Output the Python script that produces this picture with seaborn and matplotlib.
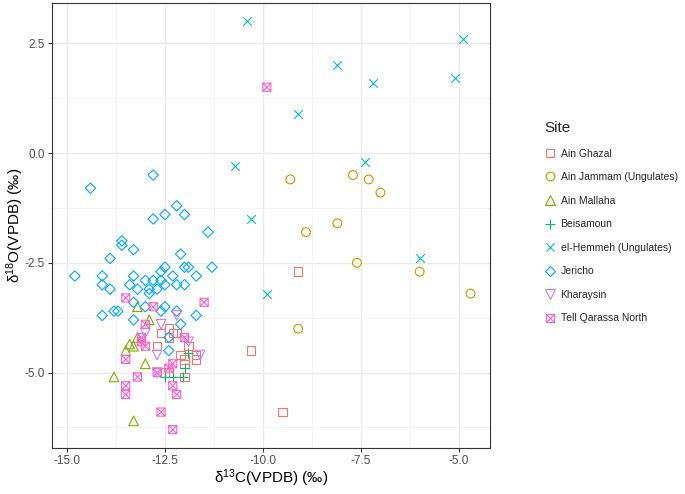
import seaborn as sns
import matplotlib.pyplot as plt
import matplotlib as mpl
from matplotlib.path import Path
from matplotlib.lines import Line2D
from matplotlib.ticker import MultipleLocator
import pandas as pd

# data
ain_ghazal_x = [-9.1, -10.3, -9.5, -12.6, -12.4, -12.3, -12.2, -12.7, -11.9, -12.1, -11.7,
                -11.7, -12.0, -12.0, -12.4, -12.5, -12.0, -12.4]
ain_ghazal_y = [-2.7, -4.5, -5.9, -4.1, -4.0, -4.1, -4.1, -4.4, -4.4, -4.6, -4.6,
                -4.7, -4.7, -4.8, -5.0, -5.0, -5.1, -4.2]

ain_jammam_x = [-9.3, -7.7, -7.3, -7.0, -8.9, -8.1, -7.6, -6.0, -4.7, -9.1]
ain_jammam_y = [-0.6, -0.5, -0.6, -0.9, -1.8, -1.6, -2.5, -2.7, -3.2, -4.0]

ain_mallaha_x = [-13.2, -12.9, -13.2, -13.4, -13.3, -13.5, -13.0, -13.8, -13.3]
ain_mallaha_y = [-3.5, -3.8, -4.2, -4.35, -4.4, -4.5, -4.8, -5.1, -6.1]

beisamoun_x = [-11.9, -12.0, -12.5, -12.3, -12.05]
beisamoun_y = [-4.55, -4.9, -5.1, -5.1, -5.1]

hemmeh_x = [-10.4, -4.9, -8.1, -7.2, -5.1, -9.1, -10.7, -7.4, -10.3, -6.0, -9.9]
hemmeh_y = [3.0, 2.6, 2.0, 1.6, 1.7, 0.9, -0.3, -0.2, -1.5, -2.4, -3.2]

jericho_x = [-14.4, -12.8, -12.2, -12.5, -12.8, -12.0, -11.4, -12.1, -13.6, -13.6, -13.3,
             -13.9, -11.3, -12.5, -12.6, -12.0, -11.9, -11.7, -14.8, -14.1, -13.3, -12.3,
             -13.0, -12.8, -12.6, -14.1, -13.4, -12.5, -12.2, -12.0, -13.9, -13.2, -12.9,
             -12.7, -12.9, -13.3, -13.0, -12.5, -12.2, -12.6, -13.8, -13.7, -14.1, -13.3,
             -11.7, -12.1, -12.4, -12.4]
jericho_y = [-0.8, -0.5, -1.2, -1.4, -1.5, -1.4, -1.8, -2.3, -2.0, -2.1, -2.2,
             -2.4, -2.6, -2.6, -2.7, -2.6, -2.6, -2.8, -2.8, -2.8, -2.8, -2.8,
             -2.9, -2.9, -2.9, -3.0, -3.0, -3.0, -3.0, -3.0, -3.1, -3.1, -3.1,
             -3.1, -3.2, -3.4, -3.5, -3.5, -3.6, -3.6, -3.6, -3.6, -3.7, -3.8,
             -3.7, -3.9, -4.5, -4.2]

kharaysin_x = [-12.2, -12.6, -13.0, -11.9, -11.6, -12.7, -12.7]
kharaysin_y = [-3.7, -3.9, -4.1, -4.3, -4.6, -4.6, -5.0]

qarassa_x = [-9.9, -13.5, -12.8, -11.5, -13.0, -13.1, -13.0, -12.0, -13.5, -12.3, -12.4,
             -12.7, -13.2, -13.5, -12.3, -13.5, -12.2, -12.6, -12.3, -13.1]
qarassa_y = [1.5, -3.3, -3.5, -3.4, -3.9, -4.2, -4.4, -4.2, -4.7, -4.8, -4.9,
             -5.0, -5.1, -5.3, -5.3, -5.5, -5.5, -5.9, -6.3, -4.3]

sites = ["Ain Ghazal", "Ain Jammam (Ungulates)", "Ain Mallaha", "Beisamoun",
         "el-Hemmeh (Ungulates)", "Jericho", "Kharaysin", "Tell Qarassa North"]
xs = [ain_ghazal_x, ain_jammam_x, ain_mallaha_x, beisamoun_x, hemmeh_x, jericho_x,
      kharaysin_x, qarassa_x]
ys = [ain_ghazal_y, ain_jammam_y, ain_mallaha_y, beisamoun_y, hemmeh_y, jericho_y,
      kharaysin_y, qarassa_y]

df = pd.concat([pd.DataFrame({"d13C": x, "d18O": y, "Site": s})
                for s, x, y in zip(sites, xs, ys)], ignore_index=True)

# ggplot-like hues and shapes 0..7
colors = ["#F8766D", "#CD9600", "#7CAE00", "#00BE67", "#00BFC4", "#00A9FF", "#C77CFF", "#FF61CC"]
box_x = Path([(-1, -1), (1, -1), (1, 1), (-1, 1), (-1, -1), (-1, -1), (1, 1), (-1, 1), (1, -1)],
             [Path.MOVETO, Path.LINETO, Path.LINETO, Path.LINETO, Path.LINETO,
              Path.MOVETO, Path.LINETO, Path.MOVETO, Path.LINETO])
markers = ["s", "o", "^", "+", "x", "D", "v", box_x]
sizes = [36, 40, 48, 60, 38, 28, 48, 34]

sns.set_theme(style="white")
plt.rcParams["font.family"] = ["Liberation Sans", "DejaVu Sans"]

fig = plt.figure(figsize=(6.85, 4.94), dpi=100)
ax = fig.add_axes([0.076, 0.093, 0.639, 0.901])

handles = []
for site, c, m, sz in zip(sites, colors, markers, sizes):
    sub = df[df["Site"] == site]
    if m in ("+", "x"):
        sns.scatterplot(data=sub, x="d13C", y="d18O", marker=m, s=sz, color=c,
                        linewidth=0.8, ax=ax, zorder=3)
    else:
        sns.scatterplot(data=sub, x="d13C", y="d18O", marker=m, s=sz, color=c,
                        facecolor="none", edgecolor=c, linewidth=0.8, ax=ax, zorder=3)
    handles.append(Line2D([], [], linestyle="none", marker=m, markersize=sz ** 0.5,
                          markerfacecolor="none", markeredgecolor=c, color=c,
                          markeredgewidth=0.8, label=site))

ax.set_xlim(-15.38, -4.21)
ax.set_ylim(-6.72, 3.42)
ax.xaxis.set_major_locator(MultipleLocator(2.5))
ax.yaxis.set_major_locator(MultipleLocator(2.5))
ax.xaxis.set_minor_locator(MultipleLocator(1.25))
ax.yaxis.set_minor_locator(MultipleLocator(1.25))
ax.xaxis.set_major_formatter(mpl.ticker.FormatStrFormatter("%.1f"))
ax.yaxis.set_major_formatter(mpl.ticker.FormatStrFormatter("%.1f"))
ax.grid(which="major", color="#EBEBEB", linewidth=1.0)
ax.grid(which="minor", color="#F3F3F3", linewidth=0.6)
ax.set_axisbelow(True)
for sp in ax.spines.values():
    sp.set_color("#333333")
    sp.set_linewidth(0.8)
ax.tick_params(which="major", length=3, width=0.8, color="#333333", pad=2,
               labelsize=8.5, labelcolor="#4D4D4D", bottom=True, left=True)
ax.tick_params(which="minor", length=0)

ax.set_xlabel(r"$\mathregular{\delta^{13}}$C(VPDB) (‰)", fontsize=11, color="black", labelpad=0)
ax.set_ylabel(r"$\mathregular{\delta^{18}}$O(VPDB) (‰)", fontsize=11, color="black")
ax.yaxis.set_label_coords(-0.06, 0.5)

fig.legend(handles=handles, title="Site", loc="upper left", bbox_to_anchor=(0.794, 0.755),
           frameon=False, fontsize=7.5, title_fontsize=11, labelspacing=1.3,
           handletextpad=0.4, handlelength=1.2, borderaxespad=0, borderpad=0,
           alignment="left")

fig.savefig("out.png", dpi=100)
